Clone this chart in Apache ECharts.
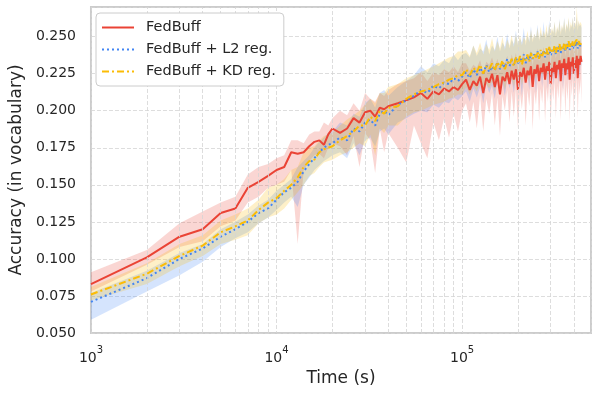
<!DOCTYPE html>
<html>
<head>
<meta charset="utf-8">
<script src="https://cdn.jsdelivr.net/npm/echarts@6/dist/echarts.min.js"></script>
<style>
  html, body { margin: 0; padding: 0; background: #fff; }
  #chart { width: 597px; height: 397px; }
</style>
</head>
<body>
<div id="chart"></div>
<script>
// time points (s)
var times = [
  1000, 2000, 3000, 4000, 5000, 6000, 7000, 8000, 9000, 10000,
  11000, 12000, 13000, 14000, 15000, 16000, 17000, 18000, 19000, 20000,
  22000, 24000, 26000, 28000, 30000, 32000, 34000, 36000, 38000, 40000,
  45000, 50000, 55000, 60000, 65000, 70000, 75000, 80000, 85000, 90000, 95000, 100000,
  105000, 110000, 115000, 120000, 125000, 130000, 135000, 140000, 145000, 150000,
  155000, 160000, 165000, 170000, 175000, 180000, 185000, 190000, 195000, 200000,
  205000, 210000, 215000, 220000, 225000, 230000, 235000, 240000, 245000, 250000,
  255000, 260000, 265000, 270000, 275000, 280000, 285000, 290000, 295000, 300000,
  305000, 310000, 315000, 320000, 325000, 330000, 335000, 340000, 345000, 350000,
  355000, 360000, 365000, 370000, 375000, 380000, 385000, 390000, 395000, 400000,
  405000, 410000, 415000, 420000, 425000, 430000, 435000, 440000
];

// FedBuff
var fedbuff = [
  0.083, 0.101, 0.115, 0.120, 0.131, 0.134, 0.148, 0.152, 0.156, 0.160,
  0.162, 0.172, 0.171, 0.172, 0.176, 0.179, 0.180, 0.177, 0.184, 0.188,
  0.185, 0.188, 0.195, 0.192, 0.199, 0.200, 0.196, 0.202, 0.201, 0.203,
  0.205, 0.207, 0.209, 0.212, 0.208, 0.213, 0.211, 0.215, 0.213, 0.216, 0.214, 0.218,
  0.221, 0.214, 0.220, 0.217, 0.223, 0.212, 0.222, 0.219, 0.225, 0.216,
  0.224, 0.211, 0.223, 0.220, 0.226, 0.218, 0.227, 0.221, 0.228, 0.214,
  0.226, 0.223, 0.229, 0.219, 0.227, 0.224, 0.230, 0.216, 0.228, 0.225,
  0.231, 0.220, 0.229, 0.226, 0.232, 0.221, 0.230, 0.227, 0.233, 0.218,
  0.229, 0.226, 0.233, 0.222, 0.231, 0.228, 0.234, 0.220, 0.232, 0.229,
  0.235, 0.224, 0.232, 0.228, 0.236, 0.221, 0.233, 0.230, 0.236, 0.225,
  0.234, 0.229, 0.237, 0.222, 0.235, 0.231, 0.237, 0.233
];
var fedbuffLo = [
  0.078, 0.096, 0.108, 0.112, 0.122, 0.126, 0.138, 0.142, 0.148, 0.150,
  0.152, 0.160, 0.110, 0.160, 0.166, 0.170, 0.171, 0.168, 0.175, 0.178,
  0.176, 0.170, 0.183, 0.162, 0.185, 0.180, 0.158, 0.188, 0.172, 0.185,
  0.175, 0.165, 0.190, 0.178, 0.168, 0.192, 0.180, 0.195, 0.182, 0.198, 0.186, 0.200,
  0.205, 0.192, 0.206, 0.188, 0.210, 0.186, 0.208, 0.198, 0.212, 0.190,
  0.209, 0.183, 0.210, 0.200, 0.214, 0.192, 0.213, 0.196, 0.215, 0.188,
  0.212, 0.201, 0.216, 0.190, 0.214, 0.203, 0.217, 0.187, 0.213, 0.204,
  0.218, 0.193, 0.215, 0.205, 0.219, 0.192, 0.216, 0.206, 0.220, 0.190,
  0.215, 0.207, 0.220, 0.195, 0.217, 0.208, 0.221, 0.193, 0.218, 0.209,
  0.222, 0.197, 0.218, 0.207, 0.222, 0.192, 0.219, 0.210, 0.222, 0.198,
  0.219, 0.208, 0.223, 0.195, 0.220, 0.211, 0.222, 0.205
];
var fedbuffHi = [
  0.091, 0.106, 0.124, 0.132, 0.138, 0.142, 0.157, 0.162, 0.164, 0.168,
  0.170, 0.180, 0.180, 0.178, 0.184, 0.186, 0.186, 0.192, 0.190, 0.195,
  0.200, 0.197, 0.205, 0.200, 0.212, 0.208, 0.206, 0.212, 0.210, 0.214,
  0.218, 0.220, 0.222, 0.226, 0.220, 0.226, 0.224, 0.228, 0.226, 0.230, 0.226, 0.232,
  0.232, 0.227, 0.231, 0.229, 0.234, 0.226, 0.233, 0.231, 0.236, 0.229,
  0.235, 0.226, 0.234, 0.232, 0.237, 0.230, 0.238, 0.233, 0.239, 0.229,
  0.237, 0.235, 0.240, 0.232, 0.238, 0.236, 0.241, 0.230, 0.239, 0.237,
  0.242, 0.233, 0.240, 0.238, 0.243, 0.234, 0.241, 0.239, 0.244, 0.232,
  0.240, 0.238, 0.244, 0.235, 0.242, 0.240, 0.245, 0.234, 0.243, 0.241,
  0.246, 0.237, 0.243, 0.240, 0.247, 0.235, 0.244, 0.242, 0.247, 0.238,
  0.245, 0.241, 0.248, 0.236, 0.246, 0.243, 0.248, 0.245
];

// FedBuff + L2 reg.
var l2 = [
  0.071, 0.087, 0.100, 0.107, 0.115, 0.120, 0.125, 0.131, 0.134, 0.140,
  0.145, 0.148, 0.152, 0.159, 0.164, 0.168, 0.172, 0.175, 0.177, 0.178,
  0.182, 0.180, 0.188, 0.186, 0.192, 0.194, 0.190, 0.198, 0.200, 0.197,
  0.204, 0.207, 0.210, 0.214, 0.212, 0.217, 0.215, 0.219, 0.218, 0.222, 0.220, 0.223,
  0.226, 0.222, 0.228, 0.224, 0.229, 0.225, 0.231, 0.226, 0.230, 0.227,
  0.233, 0.228, 0.232, 0.229, 0.235, 0.230, 0.234, 0.231, 0.236, 0.232,
  0.235, 0.233, 0.238, 0.232, 0.237, 0.234, 0.239, 0.235, 0.238, 0.236,
  0.240, 0.235, 0.239, 0.237, 0.241, 0.236, 0.240, 0.238, 0.242, 0.237,
  0.241, 0.239, 0.243, 0.238, 0.242, 0.240, 0.244, 0.239, 0.243, 0.241,
  0.245, 0.240, 0.244, 0.242, 0.246, 0.241, 0.245, 0.243, 0.246, 0.242,
  0.245, 0.243, 0.247, 0.242, 0.246, 0.244, 0.245, 0.244
];
var l2Lo = [
  0.059, 0.078, 0.089, 0.098, 0.108, 0.114, 0.118, 0.124, 0.128, 0.133,
  0.138, 0.142, 0.135, 0.150, 0.155, 0.160, 0.163, 0.166, 0.168, 0.170,
  0.172, 0.168, 0.178, 0.170, 0.180, 0.182, 0.176, 0.186, 0.188, 0.184,
  0.192, 0.195, 0.198, 0.200, 0.199, 0.204, 0.202, 0.206, 0.205, 0.209, 0.207, 0.210,
  0.213, 0.206, 0.215, 0.209, 0.216, 0.205, 0.218, 0.212, 0.217, 0.208,
  0.220, 0.213, 0.219, 0.210, 0.222, 0.215, 0.221, 0.212, 0.223, 0.216,
  0.222, 0.210, 0.225, 0.218, 0.224, 0.214, 0.226, 0.220, 0.225, 0.212,
  0.227, 0.221, 0.226, 0.216, 0.228, 0.222, 0.227, 0.215, 0.229, 0.223,
  0.228, 0.217, 0.230, 0.224, 0.229, 0.218, 0.231, 0.225, 0.230, 0.214,
  0.232, 0.226, 0.231, 0.220, 0.233, 0.227, 0.232, 0.219, 0.233, 0.228,
  0.232, 0.221, 0.234, 0.228, 0.233, 0.222, 0.232, 0.230
];
var l2Hi = [
  0.077, 0.092, 0.104, 0.110, 0.120, 0.125, 0.130, 0.136, 0.140, 0.146,
  0.150, 0.154, 0.162, 0.166, 0.170, 0.175, 0.179, 0.182, 0.185, 0.186,
  0.192, 0.190, 0.198, 0.196, 0.205, 0.208, 0.202, 0.212, 0.214, 0.210,
  0.216, 0.220, 0.224, 0.230, 0.226, 0.232, 0.230, 0.234, 0.232, 0.238, 0.234, 0.238,
  0.239, 0.236, 0.244, 0.237, 0.242, 0.240, 0.248, 0.238, 0.244, 0.241,
  0.250, 0.240, 0.246, 0.243, 0.252, 0.242, 0.248, 0.245, 0.254, 0.244,
  0.249, 0.246, 0.256, 0.244, 0.251, 0.247, 0.257, 0.246, 0.252, 0.249,
  0.258, 0.247, 0.253, 0.250, 0.260, 0.248, 0.254, 0.251, 0.261, 0.249,
  0.255, 0.252, 0.260, 0.250, 0.256, 0.253, 0.262, 0.251, 0.257, 0.254,
  0.263, 0.252, 0.258, 0.255, 0.262, 0.253, 0.258, 0.256, 0.263, 0.254,
  0.259, 0.256, 0.264, 0.254, 0.260, 0.257, 0.258, 0.256
];

// FedBuff + KD reg.
var kd = [
  0.076, 0.090, 0.102, 0.109, 0.118, 0.122, 0.126, 0.133, 0.138, 0.141,
  0.146, 0.150, 0.155, 0.162, 0.166, 0.167, 0.172, 0.174, 0.175, 0.176,
  0.180, 0.183, 0.186, 0.190, 0.190, 0.196, 0.193, 0.200, 0.198, 0.202,
  0.203, 0.208, 0.211, 0.213, 0.214, 0.216, 0.218, 0.219, 0.221, 0.222, 0.224, 0.224,
  0.228, 0.224, 0.229, 0.226, 0.231, 0.225, 0.230, 0.228, 0.232, 0.227,
  0.233, 0.229, 0.234, 0.228, 0.233, 0.231, 0.235, 0.230, 0.236, 0.232,
  0.237, 0.231, 0.236, 0.234, 0.238, 0.233, 0.239, 0.235, 0.238, 0.236,
  0.240, 0.235, 0.241, 0.237, 0.240, 0.238, 0.242, 0.237, 0.243, 0.239,
  0.242, 0.240, 0.244, 0.239, 0.243, 0.241, 0.245, 0.240, 0.244, 0.242,
  0.246, 0.241, 0.245, 0.243, 0.247, 0.242, 0.246, 0.244, 0.247, 0.243,
  0.246, 0.245, 0.248, 0.244, 0.247, 0.245, 0.246, 0.245
];
var kdLo = [
  0.072, 0.083, 0.095, 0.102, 0.110, 0.113, 0.116, 0.124, 0.128, 0.130,
  0.134, 0.140, 0.145, 0.150, 0.156, 0.158, 0.162, 0.165, 0.166, 0.167,
  0.170, 0.172, 0.175, 0.178, 0.176, 0.184, 0.170, 0.188, 0.185, 0.190,
  0.190, 0.196, 0.199, 0.200, 0.202, 0.204, 0.205, 0.206, 0.208, 0.209, 0.211, 0.211,
  0.216, 0.211, 0.217, 0.213, 0.219, 0.212, 0.218, 0.215, 0.220, 0.213,
  0.221, 0.216, 0.222, 0.214, 0.221, 0.218, 0.223, 0.216, 0.224, 0.219,
  0.225, 0.217, 0.224, 0.221, 0.226, 0.219, 0.227, 0.222, 0.226, 0.222,
  0.228, 0.221, 0.229, 0.224, 0.228, 0.225, 0.230, 0.223, 0.231, 0.226,
  0.230, 0.227, 0.232, 0.225, 0.231, 0.228, 0.233, 0.226, 0.232, 0.229,
  0.234, 0.227, 0.233, 0.230, 0.235, 0.228, 0.234, 0.231, 0.235, 0.229,
  0.234, 0.232, 0.236, 0.230, 0.235, 0.232, 0.234, 0.233
];
var kdHi = [
  0.081, 0.097, 0.110, 0.116, 0.126, 0.130, 0.134, 0.140, 0.148, 0.150,
  0.154, 0.160, 0.162, 0.172, 0.175, 0.176, 0.180, 0.183, 0.184, 0.185,
  0.190, 0.194, 0.197, 0.200, 0.204, 0.208, 0.205, 0.212, 0.212, 0.216,
  0.218, 0.222, 0.224, 0.226, 0.228, 0.230, 0.232, 0.234, 0.236, 0.237, 0.240, 0.240,
  0.241, 0.237, 0.244, 0.239, 0.246, 0.238, 0.245, 0.241, 0.249, 0.240,
  0.247, 0.242, 0.250, 0.241, 0.248, 0.244, 0.251, 0.243, 0.252, 0.245,
  0.251, 0.244, 0.250, 0.247, 0.254, 0.246, 0.255, 0.248, 0.252, 0.249,
  0.256, 0.248, 0.257, 0.250, 0.254, 0.251, 0.258, 0.250, 0.259, 0.252,
  0.256, 0.253, 0.260, 0.252, 0.257, 0.254, 0.261, 0.253, 0.258, 0.255,
  0.262, 0.254, 0.259, 0.256, 0.263, 0.255, 0.260, 0.257, 0.263, 0.256,
  0.260, 0.258, 0.270, 0.257, 0.261, 0.258, 0.260, 0.258
];

// minor grid positions on the log axis: 2..9 x 10^k
var minorGrid = [];
[1000, 10000, 100000].forEach(function (d) {
  for (var k = 2; k <= 9; k++) {
    if (d * k < 495000) minorGrid.push({xAxis: d * k});
  }
});

function pairs(vals) {
  return times.map(function (t, i) { return [t, vals[i]]; });
}

// shaded band lo..hi drawn as one polygon through the axes
function band(lo, hi, color, z) {
  return {
    type: 'custom', silent: true, z: z, clip: true,
    data: [[times[0], lo[0]]],
    renderItem: function (params, api) {
      var pts = [];
      for (var i = 0; i < times.length; i++) pts.push(api.coord([times[i], hi[i]]));
      for (var j = times.length - 1; j >= 0; j--) pts.push(api.coord([times[j], lo[j]]));
      return {
        type: 'polygon',
        shape: {points: pts},
        style: {fill: color, opacity: 0.22}
      };
    }
  };
}

var red = '#EA4335', blue = '#4285F4', yellow = '#FBBC05';
var txt = '#262626';

var series = [{
  type: 'line', data: [], silent: true, z: 1,
  markLine: {
    silent: true, symbol: 'none', label: {show: false},
    lineStyle: {color: '#d4d4d4', type: [4, 2], width: 0.8},
    animation: false,
    data: minorGrid
  }
}];
series.push(band(fedbuffLo, fedbuffHi, red, 2));
series.push(band(l2Lo, l2Hi, blue, 2));
series.push(band(kdLo, kdHi, yellow, 2));
series.push({
  name: 'FedBuff', type: 'line', data: pairs(fedbuff), symbol: 'none', z: 3,
  lineStyle: {color: red, width: 2}, itemStyle: {color: red}
});
series.push({
  name: 'FedBuff + L2 reg.', type: 'line', data: pairs(l2), symbol: 'none', z: 4,
  lineStyle: {color: blue, width: 2, type: [2, 3]}, itemStyle: {color: blue}
});
series.push({
  name: 'FedBuff + KD reg.', type: 'line', data: pairs(kd), symbol: 'none', z: 5,
  lineStyle: {color: yellow, width: 2, type: [7, 3, 2, 3]}, itemStyle: {color: yellow}
});

var chart = echarts.init(document.getElementById('chart'));
chart.setOption({
  animation: false,
  backgroundColor: '#fff',
  textStyle: {fontFamily: 'DejaVu Sans'},
  grid: {
    left: 88, right: 6, top: 7, bottom: 64,
    show: true, borderColor: '#cccccc', borderWidth: 2
  },
  legend: {
    data: ['FedBuff', 'FedBuff + L2 reg.', 'FedBuff + KD reg.'],
    orient: 'vertical', left: 96, top: 13, z: 10,
    padding: [6, 8, 6, 5], itemGap: 5, itemWidth: 32, itemHeight: 14,
    backgroundColor: '#fff', borderColor: '#cccccc', borderWidth: 1, borderRadius: 4,
    itemStyle: {color: 'rgba(0,0,0,0)', borderWidth: 0},
    textStyle: {fontSize: 14.5, color: txt, lineHeight: 17, padding: [0, 0, 0, 7]}
  },
  xAxis: {
    type: 'log', logBase: 10, min: 1000, max: 495000,
    name: 'Time (s)', nameLocation: 'middle', nameGap: 34,
    nameTextStyle: {fontSize: 17, color: txt},
    axisLine: {show: false}, axisTick: {show: false},
    splitLine: {show: true, lineStyle: {color: '#d4d4d4', type: [4, 2], width: 0.8}},
    axisLabel: {
      margin: 12, color: txt,
      formatter: function (v) {
        var e = Math.round(Math.log10(v));
        if (Math.abs(Math.pow(10, e) - v) > 1e-6 * v) return '';
        return '{b|10}{s|' + e + '}';
      },
      rich: {
        b: {fontSize: 14, color: txt, lineHeight: 20, verticalAlign: 'bottom'},
        s: {fontSize: 10, color: txt, lineHeight: 20, verticalAlign: 'top'}
      }
    }
  },
  yAxis: {
    type: 'value', min: 0.05, max: 0.27, interval: 0.025,
    name: 'Accuracy (in vocabulary)', nameLocation: 'middle', nameGap: 64,
    nameTextStyle: {fontSize: 17, color: txt},
    axisLine: {show: false}, axisTick: {show: false},
    splitLine: {show: true, lineStyle: {color: '#d4d4d4', type: [4, 2], width: 0.8}},
    axisLabel: {
      margin: 15, color: txt, fontSize: 14, showMaxLabel: false,
      formatter: function (v) { return v.toFixed(3); }
    }
  },
  series: series
});
</script>
</body>
</html>
